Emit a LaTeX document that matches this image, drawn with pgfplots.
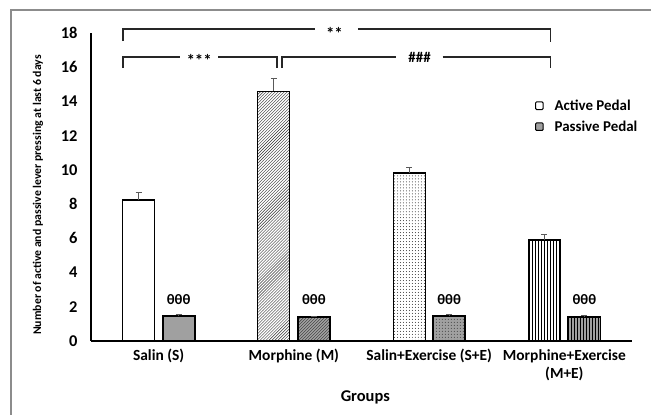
\documentclass[border=0pt]{standalone}
\usepackage{pgfplots}
\pgfplotsset{compat=1.18}
\usepackage{fontspec}
\setmainfont{Carlito}
\usetikzlibrary{patterns}
\definecolor{pgray}{HTML}{A0A0A0}
\definecolor{framegray}{HTML}{8C8C8C}
\begin{document}
\begin{tikzpicture}
\path[use as bounding box] (0,0) rectangle (651bp,415bp);
\draw[framegray, line width=1.6bp] (11bp,0) -- (11bp,405bp) -- (651bp,405bp);
\begin{axis}[
  at={(91bp,74bp)}, anchor=south west,
  scale only axis, width=541bp, height=308bp,
  xmin=-0.5, xmax=3.5, ymin=0, ymax=18,
  axis x line*=bottom, axis y line*=left,
  axis line style={line width=1.6bp, black},
  every outer x axis line/.append style={-}, every outer y axis line/.append style={-},
  major tick length=0pt,
  ytick={0,2,...,18},
  xtick={0,1,2,3},
  xticklabels={Salin (S),Morphine (M),Salin+Exercise (S+E),{Morphine+Exercise\\(M+E)}},
  /pgf/number format/assume math mode=true,
  yticklabel style={font=\bfseries\fontsize{16.5}{16}\selectfont, xshift=-10bp},
  xticklabel style={font=\bfseries\fontsize{15.5}{18}\selectfont, align=center, yshift=-5bp},
  xlabel={Groups},
  xlabel style={font=\bfseries\fontsize{16.5}{16}\selectfont, at={(rel axis cs:0.507,0)}, anchor=north, inner sep=0pt, yshift=-50bp},
  ylabel={Number of active and passive lever pressing at last 6 days},
  ylabel style={font=\bfseries\fontsize{11.8}{12}\selectfont, at={(rel axis cs:-0.098,0.474)}, anchor=center},
  clip=false,
  ybar, bar width=0.237,
  error bars/y dir=plus, error bars/y explicit,
  error bars/error bar style={line width=1bp, black!65},
  error bars/error mark options={rotate=90, mark size=3bp, line width=1bp, black!65},
  legend style={draw=none, fill=none, at={(rel axis cs:0.815,0.797)}, anchor=north west,
    font=\bfseries\fontsize{15}{16}\selectfont, row sep=5bp,
    /tikz/every odd column/.append style={column sep=9bp}},
  legend cell align=left,
  legend image code/.code={\draw[#1, line width=1bp, rounded corners=1bp] (0bp,-3.8bp) rectangle (7.5bp,3.8bp);},
]
% Salin
\addplot[draw=black, line width=1.1bp, fill=white, bar shift=-0.148]
  coordinates {(0,8.24) +- (0,0.41)};
\addlegendentry{Active Pedal}
\addplot[draw=black, line width=1.8bp, fill=pgray, bar shift=0.148]
  coordinates {(0,1.46) +- (0,0.08)};
\addlegendentry{Passive Pedal}
% Morphine
\addplot[draw=black, line width=1.1bp, fill=white, postaction={pattern=north east lines, pattern color=black!80}, bar shift=-0.148, forget plot]
  coordinates {(1,14.6) +- (0,0.75)};
\addplot[draw=black, line width=1.8bp, fill=pgray, postaction={pattern=north east lines, pattern color=black!80}, bar shift=0.148, forget plot]
  coordinates {(1,1.40) +- (0,0.06)};
% Salin+Exercise
\addplot[draw=black, line width=1.1bp, fill=white, postaction={pattern=dots, pattern color=black!80}, bar shift=-0.148, forget plot]
  coordinates {(2,9.82) +- (0,0.3)};
\addplot[draw=black, line width=1.8bp, fill=pgray, postaction={pattern=dots, pattern color=black!80}, bar shift=0.148, forget plot]
  coordinates {(2,1.48) +- (0,0.05)};
% Morphine+Exercise
\addplot[draw=black, line width=1.1bp, fill=white, postaction={pattern=vertical lines, pattern color=black}, bar shift=-0.148, forget plot]
  coordinates {(3,5.9) +- (0,0.35)};
\addplot[draw=black, line width=1.8bp, fill=pgray, postaction={pattern=vertical lines, pattern color=black}, bar shift=0.148, forget plot]
  coordinates {(3,1.42) +- (0,0.05)};
% theta annotations
\node[font=\bfseries\fontsize{14.5}{14}\selectfont, inner sep=0pt] at (axis cs:0.148,2.45) {θθθ};
\node[font=\bfseries\fontsize{14.5}{14}\selectfont, inner sep=0pt] at (axis cs:1.148,2.45) {θθθ};
\node[font=\bfseries\fontsize{14.5}{14}\selectfont, inner sep=0pt] at (axis cs:2.148,2.45) {θθθ};
\node[font=\bfseries\fontsize{14.5}{14}\selectfont, inner sep=0pt] at (axis cs:3.148,2.45) {θθθ};
% brackets
\draw[black!85, line width=1.2bp] (axis cs:-0.263,17.53) -- (axis cs:-0.263,18.23) -- (axis cs:1.156,18.23);
\draw[black!85, line width=1.2bp] (axis cs:1.474,18.23) -- (axis cs:2.90,18.23) -- (axis cs:2.90,17.50);
\node[font=\bfseries\fontsize{17}{17}\selectfont, inner sep=0pt] at (axis cs:1.30,18.0) {**};
\draw[black!85, line width=1.2bp] (axis cs:-0.263,15.95) -- (axis cs:-0.263,16.6) -- (axis cs:0.158,16.6);
\draw[black!85, line width=1.2bp] (axis cs:0.439,16.6) -- (axis cs:0.875,16.6) -- (axis cs:0.875,15.95);
\node[font=\bfseries\fontsize{17}{17}\selectfont, inner sep=0pt] at (axis cs:0.30,16.37) {***};
\draw[black!85, line width=1.2bp] (axis cs:0.912,15.95) -- (axis cs:0.912,16.6) -- (axis cs:1.755,16.6);
\draw[black!85, line width=1.2bp] (axis cs:2.10,16.6) -- (axis cs:2.90,16.6) -- (axis cs:2.90,15.95);
\node[font=\bfseries\fontsize{15}{15}\selectfont, inner sep=0pt] at (axis cs:1.93,16.6) {\#\#\#};
\end{axis}
\end{tikzpicture}
\end{document}
